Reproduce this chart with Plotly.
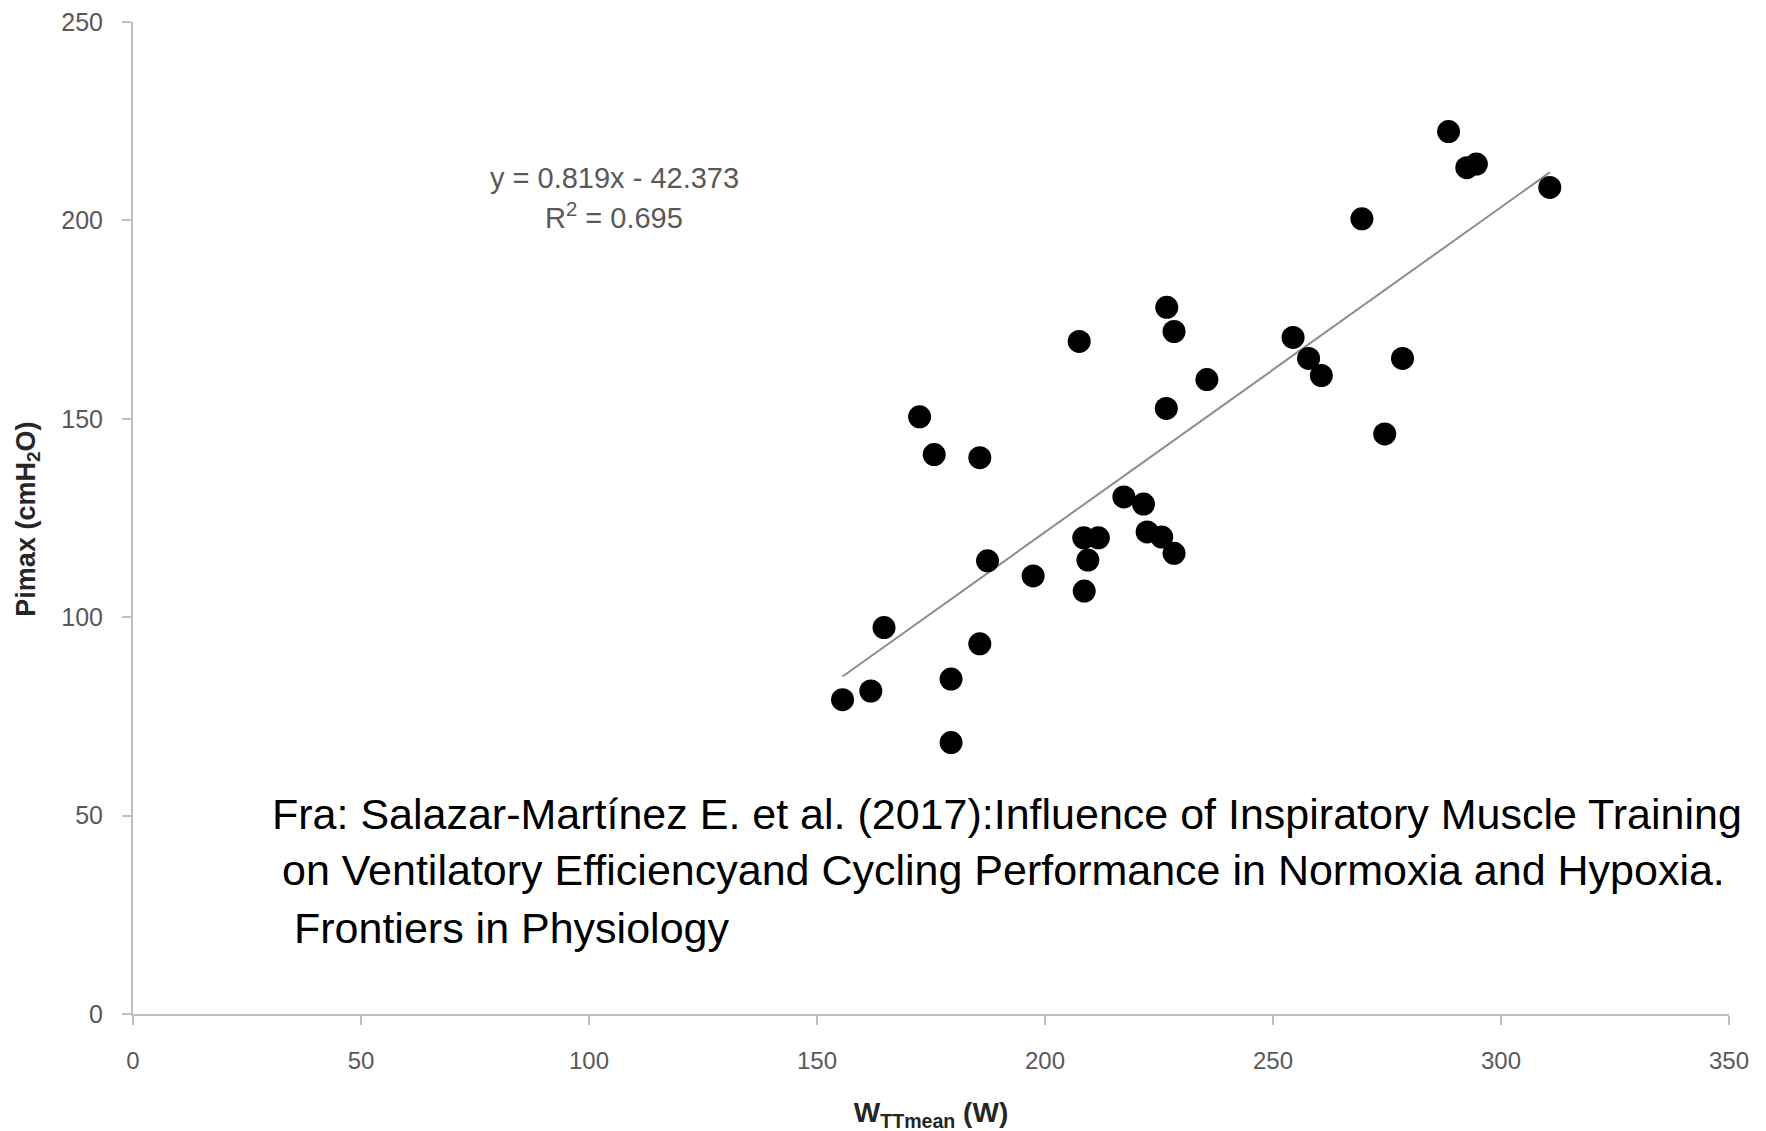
import plotly.graph_objects as go

# Data
w_ttmean = [155.6, 161.8, 164.7, 172.5, 175.7, 185.7, 179.4, 179.4, 185.7, 187.4,
            197.4, 207.5, 208.5, 211.7, 209.4, 208.6, 217.3, 221.6, 222.4, 225.6,
            228.3, 226.7, 228.3, 226.6, 235.5, 254.4, 257.8, 260.6, 274.5, 278.4,
            269.5, 288.5, 292.5, 294.6, 310.7]
pimax = [79.2, 81.4, 97.4, 150.5, 141.0, 140.2, 84.4, 68.4, 93.3, 114.2,
         110.4, 169.5, 120.0, 120.0, 114.4, 106.6, 130.3, 128.5, 121.5, 120.2,
         116.1, 178.1, 172.0, 152.6, 159.9, 170.5, 165.2, 160.9, 146.2, 165.2,
         200.4, 222.4, 213.3, 214.2, 208.3]

slope = 0.819
intercept = -42.373
x_ticks = [0, 50, 100, 150, 200, 250, 300, 350]
y_ticks = [0, 50, 100, 150, 200, 250]

eq_text = "y = 0.819x - 42.373"
r2_text = "R<sup>2</sup> = 0.695"
x_title = "W<sub>TTmean</sub> (W)"
y_title = "Pimax (cmH<sub>2</sub>O)"
citation = [
    "Fra: Salazar-Martínez E. et al. (2017):Influence of Inspiratory Muscle Training",
    "on Ventilatory Efficiencyand Cycling Performance in Normoxia and Hypoxia.",
    "Frontiers in Physiology",
]

x_min, x_max = min(w_ttmean), max(w_ttmean)
trend_x = [x_min, x_max]
trend_y = [slope * v + intercept for v in trend_x]

fig = go.Figure()
fig.add_trace(go.Scatter(x=trend_x, y=trend_y, mode="lines",
                         line=dict(color="#8c8c8c", width=2), hoverinfo="skip"))
fig.add_trace(go.Scatter(x=w_ttmean, y=pimax, mode="markers",
                         marker=dict(color="black", size=23, line=dict(width=0))))

FONT = "Liberation Sans, Arial"
axis_common = dict(showgrid=False, zeroline=False, showline=True, linecolor="#bfbfbf",
                   linewidth=2, ticks="outside", ticklen=9, tickcolor="#bfbfbf", tickwidth=2,
                   ticklabeloverflow="allow", automargin=False)

fig.update_layout(
    width=1766, height=1131,
    margin=dict(l=125, r=45, t=14, b=125),
    paper_bgcolor="white", plot_bgcolor="white",
    showlegend=False,
    xaxis=dict(range=[0, 350], tickvals=x_ticks, ticklabelstandoff=15,
               tickfont=dict(family=FONT, size=24, color="#595959"),
               title=dict(text=x_title, standoff=30,
                          font=dict(family=FONT, size=28, color="#262626", weight="bold")),
               **axis_common),
    yaxis=dict(range=[0, 250], tickvals=y_ticks, ticklabelstandoff=14,
               tickfont=dict(family=FONT, size=25, color="#595959"),
               **axis_common),
)

# y axis title placed as a rotated annotation at the far left like the reference
fig.add_annotation(xref="paper", yref="paper", x=-0.066, y=0.499, text=y_title,
                   textangle=-90, showarrow=False, xanchor="center", yanchor="middle",
                   font=dict(family=FONT, size=27, color="#262626", weight="bold"))

eq_font = dict(family=FONT, size=29, color="#595959")
fig.add_annotation(x=105.5, y=210.8, xref="x", yref="y", text=eq_text, showarrow=False,
                   font=eq_font, xanchor="center", yanchor="middle")
fig.add_annotation(x=105.5, y=201.2, xref="x", yref="y", text=r2_text, showarrow=False,
                   font=eq_font, xanchor="center", yanchor="middle")

cite_font = dict(family=FONT, size=43, color="black")
cite_x = [30.0, 32.2, 34.9]
cite_y = [50.3, 36.2, 21.6]
for txt, cx, cy in zip(citation, cite_x, cite_y):
    fig.add_annotation(x=cx, y=cy, xref="x", yref="y", text=txt, showarrow=False,
                       font=cite_font, xanchor="left", yanchor="middle")

# slide frame line at the right edge
fig.add_shape(type="line", xref="paper", yref="paper", x0=1.0213, x1=1.0213, y0=-0.12, y1=1.01,
              line=dict(color="#d0d0d0", width=2))

fig.write_html("out.html")
